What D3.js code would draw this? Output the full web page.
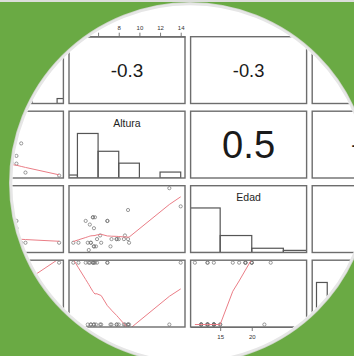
<!DOCTYPE html>
<html>
<head>
<meta charset="utf-8">
<script src="https://cdn.jsdelivr.net/npm/d3@7/dist/d3.min.js"></script>
<style>
  html, body { margin: 0; padding: 0; background: #ffffff; }
  svg { display: block; }
  text { font-family: "Liberation Sans", Arial, Helvetica, sans-serif; }
</style>
</head>
<body>
<script>
// ---- data: one value per observation, same order in every array ----
const varNames = ["Peso", "Altura", "Edad", "Sexo"];
const peso   = [50.8, 37.4, 22, 18, 15, 26, 12, 33.8, 28, 24, 31, 30, 27, 20, 32, 29,
                25, 19, 33.8, 14, 23, 13, 21, 10, 14, 13, 11, 11, 35.7, 9, 8, 12];
const altura = [3.6, 4.1, 4.8, 5.2, 5.5, 5.5, 5.7, 5.6, 5.0, 5.3, 5.3, 5.9, 5.6, 5.6, 5.8, 5.1,
                6.3, 6.2, 6.9, 6.9, 7.2, 7.3, 7.8, 7.8, 8.0, 8.5, 8.6, 8.9, 9.0, 8.9, 12.9, 14.0];
const edad   = [13, 13, 19, 18, 20, 20, 20, 17, 13, 13, 13, 14, 12, 12, 12, 11,
                13, 15, 19, 19, 12, 14, 14, 14, 14, 14, 15, 14, 13, 22, 28, 23];
const sexo   = [1, 1, 1, 1, 1, 1, 1, 1, 0, 0, 0, 1, 0, 0, 0, 1,
                0, 0, 1, 1, 0, 0, 0, 0, 0, 0, 0, 0, 0, 0, 0, 1];

// correlations for the upper panels, pairs (0,1) (0,2) (0,3) (1,2) (1,3) (2,3)
const corrUpper = [-0.32, -0.31, 0.12, 0.52, -0.37, 0.29];

// histogram breaks for the diagonal panels
const pesoBreaks   = [5, 10, 15, 20, 25, 30, 35, 40, 45, 50, 55];
const alturaBreaks = [2, 4, 6, 8, 10, 12, 14];
const edadBreaks   = [10, 15, 20, 25, 30];
const sexoBreaks   = [0, 0.1, 0.2, 0.3, 0.4, 0.5, 0.6, 0.7, 0.8, 0.9, 1.0];

// axis tick labels
const pesoTicks   = [10, 20, 30, 40, 50];
const alturaTicks = [6, 8, 10, 12, 14];
const edadTicks   = [15, 20];
const sexoTicks   = [0, 0.2, 0.4, 0.6, 0.8, 1.0];

// ---- layout ----
const W = 354, H = 356;
const panelW = 116, panelH = 66.8, gapX = 5.6, gapY = 7.7;
const gridX0 = -52.6, gridY0 = 36.7;
const lens = { cx: 190, cy: 183, r: 179 };

const columns = [peso, altura, edad, sexo];
const breaksList = [pesoBreaks, alturaBreaks, edadBreaks, sexoBreaks];
const ticksList = [pesoTicks, alturaTicks, edadTicks, sexoTicks];
const nv = columns.length;

// R-style lowess (f = 2/3, 3 robustness iterations)
function lowess(xsIn, ysIn, f = 2 / 3, iter = 3) {
  const n = xsIn.length;
  const order = d3.range(n).sort((a, b) => xsIn[a] - xsIn[b]);
  const x = order.map(i => xsIn[i]), y = order.map(i => ysIn[i]);
  const ns = Math.max(2, Math.min(n, Math.floor(f * n + 1e-7)));
  const fit = new Array(n).fill(0), rw = new Array(n).fill(1), res = new Array(n);
  const w = new Array(n).fill(0);
  const range = x[n - 1] - x[0];
  for (let it = 0; it <= iter; it++) {
    let nleft = 0, nright = ns - 1;
    for (let i = 0; i < n; i++) {
      while (nright < n - 1 && x[i] - x[nleft] > x[nright + 1] - x[i]) { nleft++; nright++; }
      const h = Math.max(x[i] - x[nleft], x[nright] - x[i]);
      const h9 = 0.999 * h, h1 = 0.001 * h;
      let a = 0, j = nleft;
      for (; j < n; j++) {
        w[j] = 0;
        const r = Math.abs(x[j] - x[i]);
        if (r <= h9) {
          w[j] = r <= h1 ? 1 : Math.pow(1 - Math.pow(r / h, 3), 3);
          if (it > 0) w[j] *= rw[j];
          a += w[j];
        } else if (x[j] > x[i]) break;
      }
      const nrt = j - 1;
      if (a <= 0) { fit[i] = y[i]; continue; }
      for (j = nleft; j <= nrt; j++) w[j] /= a;
      if (h > 0) {
        a = 0;
        for (j = nleft; j <= nrt; j++) a += w[j] * x[j];
        let b = x[i] - a, c = 0;
        for (j = nleft; j <= nrt; j++) c += w[j] * (x[j] - a) * (x[j] - a);
        if (Math.sqrt(c) > 0.001 * range) {
          b /= c;
          for (j = nleft; j <= nrt; j++) w[j] *= (b * (x[j] - a) + 1);
        }
      }
      let s = 0;
      for (j = nleft; j <= nrt; j++) s += w[j] * y[j];
      fit[i] = s;
    }
    if (it >= iter) break;
    for (let i = 0; i < n; i++) res[i] = y[i] - fit[i];
    const absr = res.map(Math.abs).sort((p, q) => p - q);
    const m1 = Math.floor(n / 2);
    const cmad = (n % 2 === 0) ? 3 * (absr[m1 - 1] + absr[m1]) : 6 * absr[m1];
    if (cmad < 1e-7 * d3.mean(absr)) break;
    const c9 = 0.999 * cmad, c1 = 0.001 * cmad;
    for (let i = 0; i < n; i++) {
      const r = Math.abs(res[i]);
      rw[i] = r <= c1 ? 1 : (r > c9 ? 0 : Math.pow(1 - (r / cmad) * (r / cmad), 2));
    }
  }
  return x.map((xi, i) => [xi, fit[i]]);
}

// right-closed bins, lowest break included
function histCounts(values, breaks) {
  const counts = new Array(breaks.length - 1).fill(0);
  values.forEach(v => {
    for (let k = 0; k < breaks.length - 1; k++) {
      const lo = breaks[k], hi = breaks[k + 1];
      if ((v > lo + 1e-9 || (k === 0 && v >= lo - 1e-9)) && v <= hi + 1e-9) { counts[k]++; break; }
    }
  });
  return counts;
}

// scales with 4% padding on each side
const base = columns.map(v => {
  const [lo, hi] = d3.extent(v);
  const pad = 0.04 * (hi - lo);
  return d3.scaleLinear().domain([lo - pad, hi + pad]);
});
const xs = base.map(s => s.copy().range([0, panelW]));
const ys = base.map(s => s.copy().range([panelH, 0]));

const colX = d3.range(nv).map(j => gridX0 + j * (panelW + gapX));
const rowY = d3.range(nv).map(i => gridY0 + i * (panelH + gapY));

const svg = d3.select("body").append("svg")
  .attr("width", W).attr("height", H);
const defs = svg.append("defs");

// green tile with a white round lens
svg.append("rect").attr("width", W).attr("height", H).attr("fill", "#6aaa44");
svg.append("rect").attr("width", W).attr("height", 2).attr("fill", "#dcdedb");
svg.append("circle")
  .attr("cx", lens.cx).attr("cy", lens.cy).attr("r", lens.r + 1)
  .attr("fill", "none").attr("stroke", "#c9d3c2").attr("stroke-width", 2);
svg.append("circle")
  .attr("cx", lens.cx).attr("cy", lens.cy).attr("r", lens.r)
  .attr("fill", "#ffffff").attr("stroke", "#e6e6e6").attr("stroke-width", 2.5);

defs.append("clipPath").attr("id", "lensClip")
  .append("circle").attr("cx", lens.cx).attr("cy", lens.cy).attr("r", lens.r - 1.5);
defs.append("clipPath").attr("id", "panelClip")
  .append("rect").attr("x", 0).attr("y", 0).attr("width", panelW).attr("height", panelH);

const chart = svg.append("g").attr("clip-path", "url(#lensClip)");

// drop a label that lies wholly outside the lens or the canvas
function keepIfSeen(node, ox, oy) {
  const b = node.getBBox();
  const x0 = ox + b.x, x1 = x0 + b.width, y0 = oy + b.y, y1 = y0 + b.height;
  const nx = Math.max(x0, Math.min(lens.cx, x1)), ny = Math.max(y0, Math.min(lens.cy, y1));
  const inLens = (nx - lens.cx) ** 2 + (ny - lens.cy) ** 2 < (lens.r - 2) ** 2;
  const inCanvas = x1 > 0 && x0 < W && y1 > 0 && y0 < H;
  if (!(inLens && inCanvas)) node.remove();
}

const borderColor = "#6d6d6d";
const corrIndex = {};
{
  let k = 0;
  for (let i = 0; i < nv; i++) for (let j = i + 1; j < nv; j++) corrIndex[i + "," + j] = corrUpper[k++];
}

for (let i = 0; i < nv; i++) {
  for (let j = 0; j < nv; j++) {
    const ox = colX[j], oy = rowY[i];
    const g = chart.append("g").attr("transform", `translate(${ox},${oy})`);
    const inner = g.append("g").attr("clip-path", "url(#panelClip)");

    if (i === j) {
      // histogram on the diagonal
      const br = breaksList[i];
      const counts = histCounts(columns[i], br);
      const maxC = d3.max(counts);
      const yh = d3.scaleLinear().domain([0, 1.5]).range([panelH, 0]);
      inner.selectAll("rect.bar")
        .data(counts.map((c, k) => ({ x0: br[k], x1: br[k + 1], h: c / maxC })))
        .join("rect").attr("class", "bar")
        .attr("x", d => xs[i](d.x0))
        .attr("width", d => xs[i](d.x1) - xs[i](d.x0))
        .attr("y", d => yh(d.h))
        .attr("height", d => panelH - yh(d.h))
        .attr("fill", "none").attr("stroke", "#555555").attr("stroke-width", 1.2);
      const lab = g.append("text")
        .attr("x", panelW / 2).attr("y", 15.6)
        .attr("text-anchor", "middle")
        .attr("font-size", 10.5).attr("fill", "#1e1e1e")
        .text(varNames[i]);
      keepIfSeen(lab.node(), ox, oy);
    } else if (i > j) {
      // scatter with lowess smoother below the diagonal
      const xv = columns[j], yv = columns[i];
      inner.selectAll("circle")
        .data(d3.range(xv.length))
        .join("circle")
        .attr("cx", k => xs[j](xv[k]))
        .attr("cy", k => ys[i](yv[k]))
        .attr("r", 1.6)
        .attr("fill", "none").attr("stroke", "#707070").attr("stroke-width", 0.7);
      const smooth = lowess(xv, yv);
      inner.append("path")
        .attr("d", d3.line().x(p => xs[j](p[0])).y(p => ys[i](p[1]))(smooth))
        .attr("fill", "none").attr("stroke", "#ea7d86").attr("stroke-width", 1);
    } else {
      // correlation text above the diagonal, sized by |r|
      const r = corrIndex[i + "," + j];
      const label = d3.format(".1f")(r).replace("\u2212", "-");
      const t = g.append("text")
        .attr("x", panelW / 2)
        .attr("text-anchor", "middle")
        .attr("fill", "#1a1a1a")
        .attr("font-size", 100)
        .text(label);
      const len100 = t.node().getComputedTextLength();
      const fs = 100 * (0.879 * Math.abs(r) * panelW) / len100;
      t.attr("font-size", fs).attr("y", panelH / 2 + 0.358 * fs);
      keepIfSeen(t.node(), ox, oy);
    }

    g.append("rect")
      .attr("width", panelW).attr("height", panelH)
      .attr("fill", "none").attr("stroke", borderColor).attr("stroke-width", 1.4);

    // outer axes: top on even columns (1-based) of the first row, bottom on odd columns of the last row
    const axisStyle = (sel, dy) => {
      sel.selectAll("path.domain").attr("stroke", borderColor).attr("stroke-width", 1);
      sel.selectAll(".tick line").attr("stroke", borderColor).attr("stroke-width", 0.9);
      sel.selectAll(".tick text").attr("fill", "#333333").attr("font-size", 6)
        .style("font-family", "'Liberation Sans', Arial, sans-serif");
      sel.selectAll(".tick").each(function () {
        const tx = +d3.select(this).attr("transform").match(/translate\(([-\d.e]+)/)[1];
        const txt = d3.select(this).select("text").node();
        if (txt) keepIfSeen(txt, ox + tx, oy + dy);
      });
    };
    if (i === 0 && (j + 1) % 2 === 0) {
      const ax = d3.axisTop(xs[j]).tickValues(ticksList[j]).tickSize(4).tickSizeOuter(0).tickPadding(3)
        .tickFormat(d3.format("~g"));
      g.append("g").call(ax).call(axisStyle, 0);
    }
    if (i === nv - 1 && (j + 1) % 2 === 1) {
      const ax = d3.axisBottom(xs[j]).tickValues(ticksList[j]).tickSize(4).tickSizeOuter(0).tickPadding(4)
        .tickFormat(d3.format("~g"));
      g.append("g").attr("transform", `translate(0,${panelH})`).call(ax).call(axisStyle, panelH);
    }
  }
}
</script>
</body>
</html>
